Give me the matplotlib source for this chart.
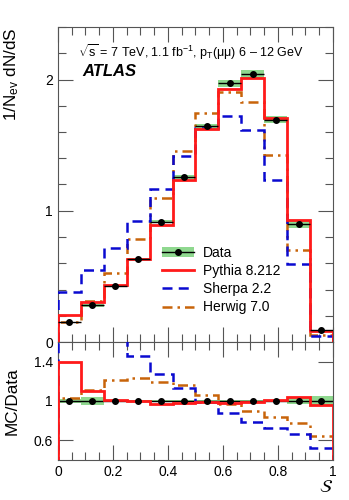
import numpy as np
import matplotlib
matplotlib.use('Agg')
import matplotlib.pyplot as plt
from matplotlib.ticker import MultipleLocator, FixedLocator
from matplotlib.patches import Patch
from matplotlib.lines import Line2D

plt.rcParams['font.family'] = ['Liberation Sans', 'DejaVu Sans']
plt.rcParams['mathtext.fontset'] = 'custom'
plt.rcParams['mathtext.rm'] = 'Liberation Sans'
plt.rcParams['mathtext.it'] = 'Liberation Sans:italic'
plt.rcParams['mathtext.bf'] = 'Liberation Sans:bold'

# 12 bins in S from 0 to 1
edges = np.linspace(0, 1, 13)
data = [0.150, 0.280, 0.430, 0.634, 0.916, 1.257, 1.644, 1.970, 2.040, 1.695, 0.898, 0.088]
data_relerr = [0.025, 0.04, 0.015, 0.012, 0.012, 0.012, 0.012, 0.012, 0.015, 0.015, 0.03, 0.05]
pythia = [0.209, 0.308, 0.435, 0.634, 0.890, 1.237, 1.626, 1.930, 2.010, 1.708, 0.931, 0.084]
sherpa = [0.382, 0.550, 0.718, 0.924, 1.166, 1.420, 1.630, 1.720, 1.613, 1.237, 0.595, 0.046]
herwig = [0.155, 0.310, 0.524, 0.781, 1.097, 1.458, 1.746, 1.906, 1.827, 1.427, 0.700, 0.057]

data = np.array(data)
relerr = np.array(data_relerr)
centers = 0.5 * (edges[1:] + edges[:-1])
halfw = 0.5 * (edges[1] - edges[0])

c_red = '#ff1a1a'
c_blue = '#0a0ad0'
c_orange = '#c8640a'
c_green = '#8fd88f'

fig = plt.figure(figsize=(3.49, 5.0), dpi=100)
ax = fig.add_axes([0.166, 0.316, 0.788, 0.63])
rx = fig.add_axes([0.166, 0.08, 0.788, 0.236], sharex=ax)

# ---- main panel
ax.stairs(data * (1 + relerr), edges, baseline=data * (1 - relerr), fill=True,
          color=c_green, lw=0, zorder=1)
ax.stairs(herwig, edges, color=c_orange, lw=1.8, ls=(0, (4, 2, 1, 2)), zorder=2)
ax.stairs(sherpa, edges, color=c_blue, lw=1.8, ls=(0, (4, 2.5)), zorder=3)
ax.stairs(pythia, edges, color=c_red, lw=2.0, zorder=4)
ax.errorbar(centers, data, xerr=halfw, fmt='o', color='black', ms=4, lw=1,
            capsize=0, zorder=5)

ax.set_xlim(0, 1)
ax.set_ylim(0, 2.4)
ax.yaxis.set_major_locator(FixedLocator([0, 1, 2]))
ax.yaxis.set_minor_locator(MultipleLocator(0.2))

ax.text(0.073, 0.92, r'$\sqrt{\mathrm{s}}$ = 7 TeV, 1.1 fb$^{-1}$, p$_{\mathrm{T}}$(μμ) 6 – 12 GeV',
        transform=ax.transAxes, fontsize=9, va='center', ha='left')
ax.text(0.09, 0.858, 'ATLAS', transform=ax.transAxes, fontsize=12,
        fontweight='bold', style='italic', va='center', ha='left')

h_data = (Patch(color=c_green, lw=0),
          Line2D([], [], color='black', marker='o', ms=4, lw=1))
h_py = Line2D([], [], color=c_red, lw=2.0)
h_sh = Line2D([], [], color=c_blue, lw=1.8, ls=(0, (4, 2.5)))
h_hw = Line2D([], [], color=c_orange, lw=1.8, ls=(0, (4, 2, 1, 2)))
ax.legend([h_data, h_py, h_sh, h_hw], ['Data', 'Pythia 8.212', 'Sherpa 2.2', 'Herwig 7.0'],
          loc='upper left', bbox_to_anchor=(0.38, 0.305), frameon=False, fontsize=10,
          handlelength=2.3, handletextpad=0.6, labelspacing=0.3, borderpad=0,
          borderaxespad=0)

# ---- ratio panel
rx.stairs(1 + relerr, edges, baseline=1 - relerr, fill=True, color=c_green, lw=0, zorder=1)
rx.axhline(1, color='black', lw=1, zorder=2)
rx.stairs(np.array(herwig) / data, edges, color=c_orange, lw=1.8, ls=(0, (4, 2, 1, 2)), zorder=3)
rx.stairs(np.array(sherpa) / data, edges, color=c_blue, lw=1.8, ls=(0, (4, 2.5)), zorder=4)
rx.stairs(np.array(pythia) / data, edges, color=c_red, lw=2.0, zorder=5)
rx.plot(centers, np.ones_like(centers), 'o', color='black', ms=4, zorder=6)

rx.set_ylim(0.4, 1.6)
rx.yaxis.set_major_locator(FixedLocator([0.6, 1.0, 1.4]))
rx.set_yticklabels(['0.6', '1', '1.4'])
rx.set_xlabel(r'$\mathcal{S}$', fontsize=13, loc='right', labelpad=0, math_fontfamily='stix')
rx.xaxis.set_minor_locator(MultipleLocator(0.05))
rx.set_xticks([0, 0.2, 0.4, 0.6, 0.8, 1.0])
rx.set_xticklabels(['0', '0.2', '0.4', '0.6', '0.8', '1'])

for a in (ax, rx):
    a.tick_params(which='both', direction='in', top=True, right=True,
                  labelsize=10, color='#555555')
    a.tick_params(which='major', length=11, width=0.8)
    a.tick_params(which='minor', length=6, width=0.8)
    for s in a.spines.values():
        s.set_color('#555555')
        s.set_linewidth(0.8)
plt.setp(ax.get_xticklabels(), visible=False)

# axis titles placed ROOT-style
fig.text(0.034, 0.946, r'1/N$_{\mathrm{ev}}$ dN/dS', rotation=90, fontsize=12.3,
         ha='center', va='top')
fig.text(0.034, 0.198, 'MC/Data', rotation=90, fontsize=12.3, ha='center', va='center')

fig.savefig('out.png', dpi=100)
